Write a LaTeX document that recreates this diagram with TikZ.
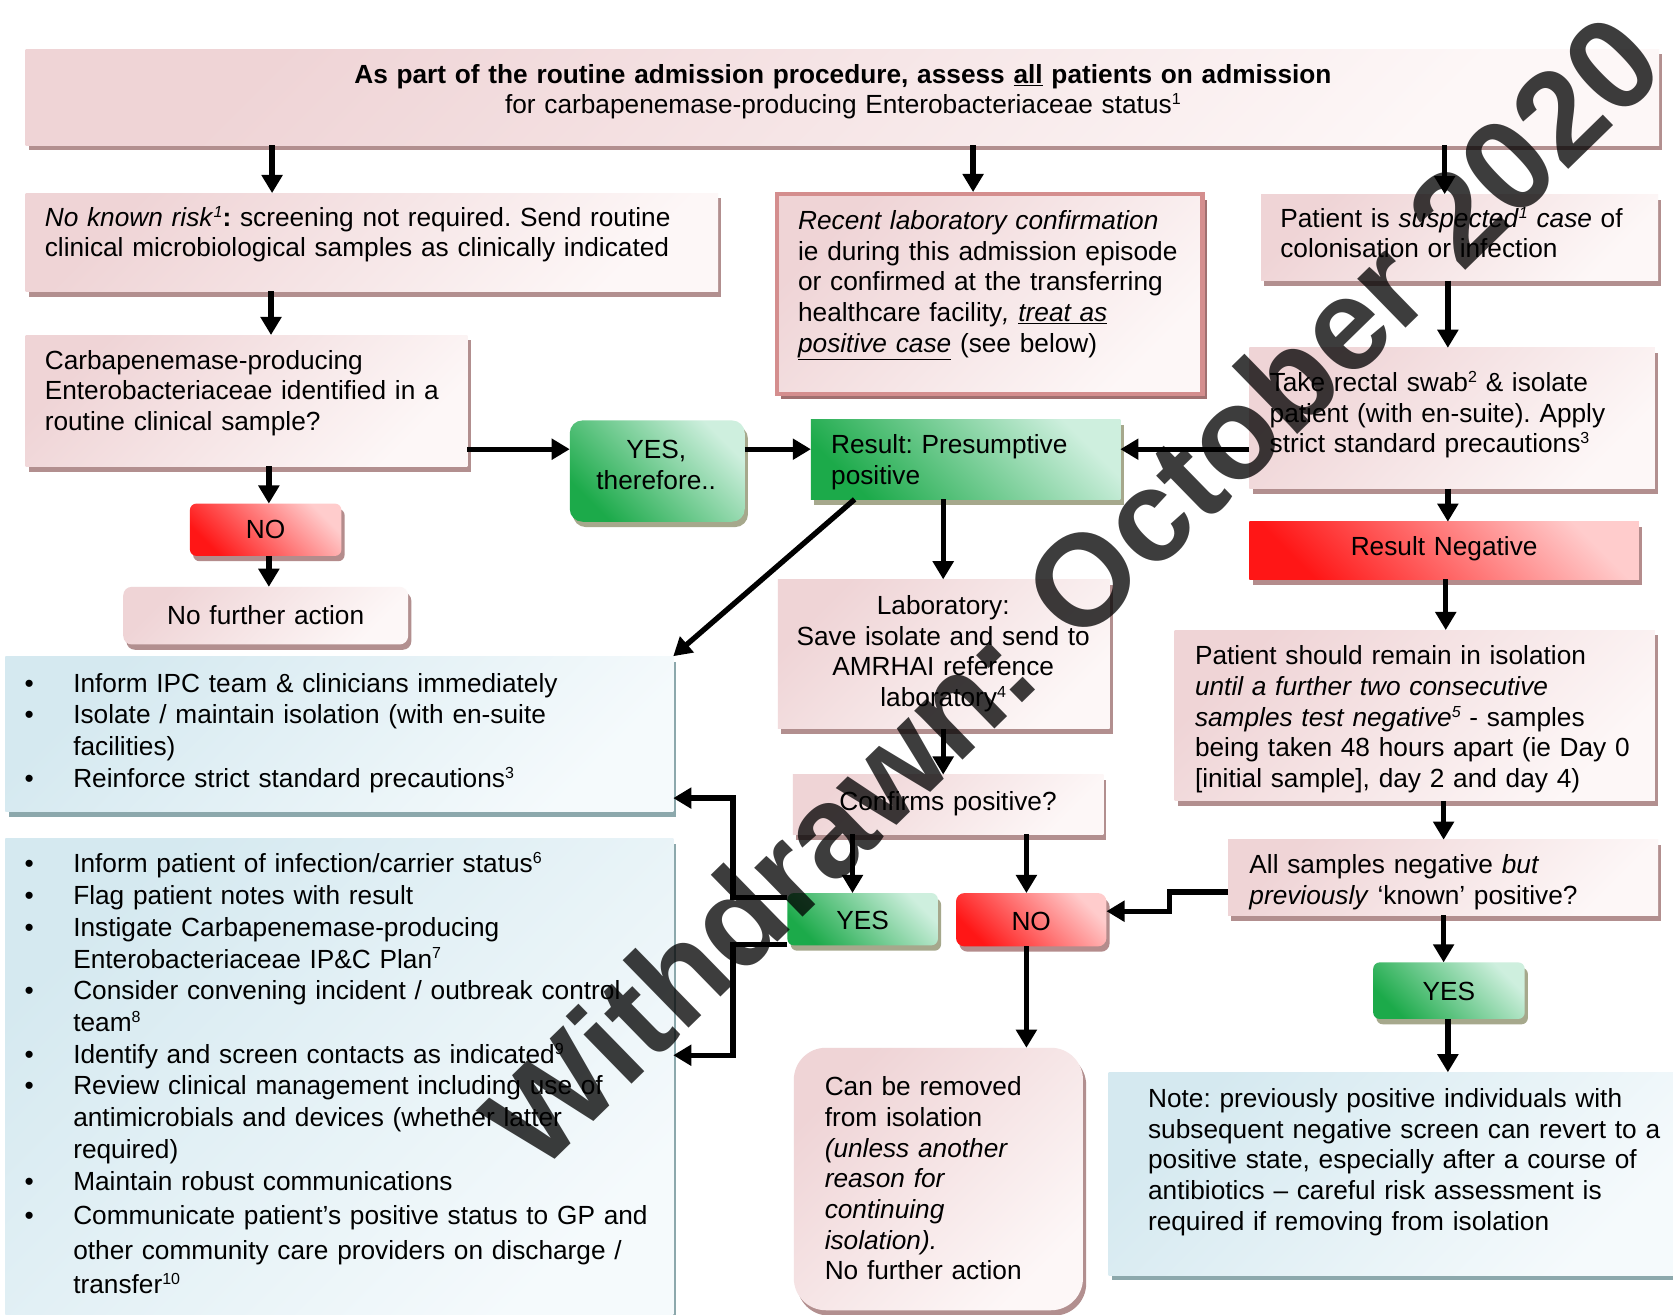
\documentclass[tikz,border=0pt]{standalone}
\usepackage{fontspec}
\setmainfont{Liberation Sans}
\usetikzlibrary{arrows.meta,shadows}

\definecolor{pinkA}{RGB}{239,212,214}
\definecolor{pinkB}{RGB}{253,247,247}
\definecolor{pinkSh}{RGB}{178,143,143}
\definecolor{rlcLine}{RGB}{212,142,142}
\definecolor{rlcSh}{RGB}{160,112,112}
\definecolor{blueA}{RGB}{213,233,240}
\definecolor{blueB}{RGB}{245,250,252}
\definecolor{blueSh}{RGB}{140,168,172}
\definecolor{greenA}{RGB}{28,170,74}
\definecolor{greenB}{RGB}{206,239,222}
\definecolor{greenSh}{RGB}{166,168,140}
\definecolor{redA}{RGB}{255,22,22}
\definecolor{redB}{RGB}{255,204,204}
\definecolor{redSh}{RGB}{180,140,140}

\newcommand\fsz{\fontsize{24.6}{28.75}\selectfont\frenchspacing}
\newcommand\fszb{\fontsize{24.6}{29.75}\selectfont\frenchspacing}
\newcommand\bul{\makebox[45.7pt][l]{•}}
\newcommand\ind{\hspace*{45.7pt}}
\newcommand\sps[1]{\raisebox{8.5pt}{\fontsize{15}{15}\selectfont #1}}

\begin{document}
\begin{tikzpicture}[x=1pt,y=-1pt,
  boxbase/.style={rectangle, inner sep=0pt, outer sep=0pt},
  pinkbox/.style={boxbase, top color=pinkA, bottom color=pinkB, shading angle=45,
    general shadow={fill=pinkSh, shadow xshift=3pt, shadow yshift=-5pt}},
  rlcbox/.style={boxbase, draw=rlcLine, line width=4pt, top color=pinkA, bottom color=pinkB, shading angle=45,
    general shadow={fill=rlcSh, shadow xshift=4pt, shadow yshift=-5pt}},
  bluebox/.style={boxbase, top color=blueA, bottom color=blueB, shading angle=45,
    general shadow={fill=blueSh, shadow xshift=3pt, shadow yshift=-5pt}},
  greenbox/.style={boxbase, top color=greenB, bottom color=greenA, shading angle=-45,
    general shadow={fill=greenSh, shadow xshift=3pt, shadow yshift=-5pt}},
  redbox/.style={boxbase, top color=redB, bottom color=redA, shading angle=-45,
    general shadow={fill=redSh, shadow xshift=3pt, shadow yshift=-5pt}},
  tl/.style={inner sep=0pt, outer sep=0pt, anchor=base west, align=left, font=\fsz, text width=#1},
  tlb/.style={inner sep=0pt, outer sep=0pt, anchor=base west, align=left, font=\fszb, text width=#1},
  tc/.style={inner sep=0pt, outer sep=0pt, anchor=base, align=center, font=\fsz, text width=#1},
  arr/.style={line width=5pt, -{Triangle[width=19pt,length=17pt]}},
  wm/.style={inner sep=0pt, font=\fontsize{122}{122}\selectfont\bfseries, text=black, text opacity=0.76, rotate=44.3}
]
\path[use as bounding box, clip] (0,0) rectangle (1568,1232);
\fill[white] (0,0) rectangle (1568,1232);

% ---------- boxes ----------
\node[pinkbox, minimum width=1531, minimum height=90] (top) at (789.5,91) {};
\node[pinkbox, minimum width=649, minimum height=92] (nkr) at (348.5,227) {};
\node[pinkbox, minimum width=414, minimum height=123] (cpe) at (231,375.5) {};
\node[rlcbox, minimum width=399, minimum height=187] (rlc) at (927.5,275.5) {};
\node[pinkbox, minimum width=372, minimum height=81] (sus) at (1368,222.5) {};
\node[pinkbox, minimum width=380, minimum height=132] (swab) at (1361,392) {};
\node[greenbox, rounded corners=12pt, minimum width=164, minimum height=95] (yest) at (616,441.5) {};
\node[greenbox, minimum width=290, minimum height=75] (pres) at (905,430.5) {};
\node[redbox, rounded corners=6pt, minimum width=142, minimum height=49] (no1) at (249,496.5) {};
\node[pinkbox, rounded corners=8pt, minimum width=267, minimum height=54] (nfa) at (249,577) {};
\node[redbox, minimum width=365, minimum height=54] (rneg) at (1353.5,516) {};
\node[pinkbox, minimum width=311, minimum height=140] (lab) at (884.5,613) {};
\node[pinkbox, minimum width=450, minimum height=160] (remain) at (1326,670.5) {};
\node[bluebox, minimum width=626, minimum height=146] (blue1) at (318,688) {};
\node[pinkbox, minimum width=291, minimum height=56] (conf) at (888.5,754) {};
\node[bluebox, minimum width=626, minimum height=452] (blue2) at (318,1012) {};
\node[pinkbox, minimum width=403, minimum height=71] (alls) at (1352.5,822.5) {};
\node[greenbox, rounded corners=6pt, minimum width=141, minimum height=49] (yes2) at (808.5,861.5) {};
\node[redbox, rounded corners=8pt, minimum width=141, minimum height=50] (no2) at (966.5,862) {};
\node[greenbox, rounded corners=6pt, minimum width=142, minimum height=53] (yes3) at (1358,928.5) {};
\node[pinkbox, rounded corners=30pt, minimum width=271, minimum height=246] (cbr) at (879.5,1105) {};
\node[bluebox, minimum width=536, minimum height=190] (note) at (1307,1100) {};

% ---------- connectors ----------
\draw[arr] (255,0 |- top.south) -- (255,0 |- nkr.north);
\draw[arr] (912,0 |- top.south) -- ([yshift=2pt]912,0 |- rlc.north);
\draw[arr] (1354,0 |- top.south) -- (1354,0 |- sus.north);
\draw[arr] (254,0 |- nkr.south) -- (254,0 |- cpe.north);
\draw[arr] (252,0 |- cpe.south) -- (252,0 |- no1.north);
\draw[arr] (252,0 |- no1.south) -- (252,0 |- nfa.north);
\draw[arr] (cpe.east |- 0,421) -- (yest.west |- 0,421);
\draw[arr] (yest.east |- 0,421) -- (pres.west |- 0,421);
\draw[arr] (swab.west |- 0,421) -- (pres.east |- 0,421);
\draw[arr] (1357,0 |- sus.south) -- (1357,0 |- swab.north);
\draw[arr] (1357,0 |- swab.south) -- (1357,0 |- rneg.north);
\draw[arr] (1355,0 |- rneg.south) -- (1355,0 |- remain.north);
\draw[arr] (1353,0 |- remain.south) -- (1353,0 |- alls.north);
\draw[arr] (1353,0 |- alls.south) -- (1353,0 |- yes3.north);
\draw[arr] (1357,0 |- yes3.south) -- (1357,0 |- note.north);
\draw[arr] (alls.west |- 0,836) -- (1096,836) -- (1096,854) -- (no2.east |- 0,854);
\draw[arr] (801,0 |- pres.south) -- (blue1.north east);
\draw[arr] (884,0 |- pres.south) -- (884,0 |- lab.north);
\draw[arr] (884,0 |- lab.south) -- (884,0 |- conf.north);
\draw[arr] (799,0 |- conf.south) -- (799,0 |- yes2.north);
\draw[arr] (962,0 |- conf.south) -- (962,0 |- no2.north);
\draw[arr] (962,0 |- no2.south) -- (962,0 |- cbr.north);
\draw[arr] (yes2.west |- 0,841) -- (687,841) -- (687,748) -- (blue1.east |- 0,748);
\draw[arr] (yes2.west |- 0,885) -- (687,885) -- (687,989) -- (blue2.east |- 0,989);

% ---------- texts ----------
\node[tc=1500] (t-top) at (790,78) {\textbf{As part of the routine admission procedure, assess \underline{all} patients on admission}\\
  for carbapenemase-producing Enterobacteriaceae status\sps{1}};
\node[tl=660] (t-nkr) at (42,212) {\textit{No known risk}\sps{\itshape 1}\textbf{:} screening not required. Send routine\\
  clinical microbiological samples as clinically indicated};
\node[tl=420] (t-cpe) at (42,346) {Carbapenemase-producing\\ Enterobacteriaceae identified in a\\ routine clinical sample?};
\node[tl=400] (t-rlc) at (748,215) {\textit{Recent laboratory confirmation}\\ ie during this admission episode\\ or confirmed at the transferring\\
  healthcare facility\textit{, \underline{treat as}}\\ \textit{\underline{positive case}} (see below)};
\node[tl=380] (t-sus) at (1200,213) {Patient is \textit{suspected}\sps{\itshape 1} \textit{case} of\\ colonisation or infection};
\node[tl=380] (t-swab) at (1190,367) {Take rectal swab\sps{2} \& isolate\\ patient (with en-suite). Apply\\ strict standard precautions\sps{3}};
\node[tc=160] (t-yest) at (615,430) {YES,\\ therefore..};
\node[tl=290] (t-pres) at (779,425) {Result: Presumptive\\ positive};
\node[tc=140] (t-no1) at (249,505) {NO};
\node[tc=260] (t-nfa) at (249,585) {No further action};
\node[tc=360] (t-rneg) at (1353.5,521) {Result Negative};
\node[tc=330] (t-lab) at (884,576) {Laboratory:\\ Save isolate and send to\\ AMRHAI reference\\ laboratory\sps{4}};
\node[tl=450] (t-remain) at (1120,623) {Patient should remain in isolation\\ \textit{until a further two consecutive}\\
  \textit{samples test negative}\sps{\itshape 5} - samples\\ being taken 48 hours apart (ie Day 0\\ {[}initial sample{]}, day 2 and day 4)};
\node[tlb=610] (t-blue1) at (23,648.6) {\bul Inform IPC team \& clinicians immediately\\
  \bul Isolate / maintain isolation (with en-suite\\ \ind facilities)\\
  \bul Reinforce strict standard precautions\sps{3}};
\node[tc=290] (t-conf) at (888.5,760) {Confirms positive?};
\node[tlb=610] (t-blue2) at (23,818) {\bul Inform patient of infection/carrier status\sps{6}\\
  \bul Flag patient notes with result\\
  \bul Instigate Carbapenemase-producing\\ \ind Enterobacteriaceae IP\&C Plan\sps{7}\\
  \bul Consider convening incident / outbreak control\\ \ind team\sps{8}\\
  \bul Identify and screen contacts as indicated\sps{9}\\
  \bul Review clinical management including use of\\ \ind antimicrobials and devices (whether latter\\ \ind required)\\
  \bul Maintain robust communications\\[2.5pt]
  \bul Communicate patient’s positive status to GP and\\[2.5pt] \ind other community care providers on discharge /\\[2.5pt] \ind transfer\sps{10}};
\node[tl=400] (t-alls) at (1171,819) {All samples negative \textit{but}\\ \textit{previously} ‘known’ positive?};
\node[tc=140] (t-yes2) at (808.5,871) {YES};
\node[tc=140] (t-no2) at (966.5,872) {NO};
\node[tc=140] (t-yes3) at (1358,938) {YES};
\node[tl=240] (t-cbr) at (773,1027) {Can be removed\\ from isolation\\ \textit{(unless another}\\ \textit{reason for}\\ \textit{continuing}\\ \textit{isolation).}\\ No further action};
\node[tl=495] (t-note) at (1076,1038) {Note: previously positive individuals with\\ subsequent negative screen can revert to a\\
  positive state, especially after a course of\\ antibiotics – careful risk assessment is\\ required if removing from isolation};

% ---------- watermark ----------
\node[wm] (wmark) at (1004,553) {Withdrawn: October 2020};
\end{tikzpicture}
\end{document}
